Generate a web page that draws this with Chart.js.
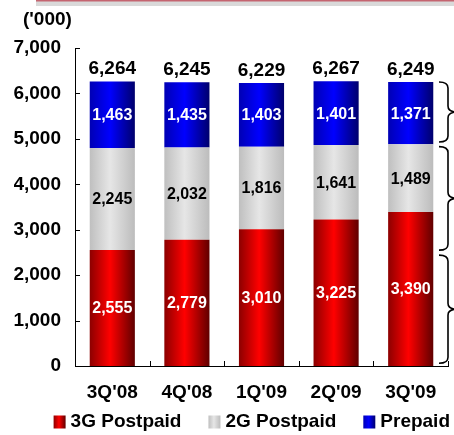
<!DOCTYPE html>
<html>
<head>
<meta charset="utf-8">
<script src="https://cdn.jsdelivr.net/npm/chart.js@4/dist/chart.umd.min.js"></script>
<style>
  html, body { margin: 0; padding: 0; background: #fff; }
  #wrap { width: 454px; height: 435px; }
</style>
</head>
<body>
<div id="wrap"><canvas id="chart"></canvas></div>
<script>
const categories = ["3Q'08", "4Q'08", "1Q'09", "2Q'09", "3Q'09"];
const postpaid3G = [2555, 2779, 3010, 3225, 3390];
const postpaid2G = [2245, 2032, 1816, 1641, 1489];
const prepaid = [1463, 1435, 1403, 1401, 1371];
const totals = [6264, 6245, 6229, 6267, 6249];
const yTicks = [0, 1000, 2000, 3000, 4000, 5000, 6000, 7000];
// value ranges the braces on the right cover
const braceRanges = [[6250, 4930], [4830, 2550], [2440, 60]];
const unitLabel = "('000)";

const fontFamily = "'Liberation Sans', Arial, Helvetica, sans-serif";
const barPct = 0.605;

const redStops = ["#8c0000", "#ff0000", "#600000"];
const grayStops = ["#bfbfbf", "#e6e6e6", "#bcbcbc"];
const blueStops = ["#0000b4", "#0000ff", "#00006c"];

function barGradient(stops) {
    return (ctx) => {
        const chart = ctx.chart;
        if (!chart.chartArea || ctx.type !== "data") return stops[1];
        const xs = chart.scales.x;
        const cx = xs.getPixelForValue(ctx.dataIndex);
        const half = xs.width / categories.length * barPct / 2;
        const g = chart.ctx.createLinearGradient(cx - half, 0, cx + half, 0);
        g.addColorStop(0, stops[0]);
        g.addColorStop(0.45, stops[1]);
        g.addColorStop(1, stops[2]);
        return g;
    };
}

const fmt = v => v.toLocaleString("en-US");

const decor = {
    id: "decor",
    afterDatasetsDraw(chart) {
        const c = chart.ctx;
        c.save();
        c.textAlign = "center";
        c.textBaseline = "middle";
        c.font = "bold 16px " + fontFamily;
        chart.data.datasets.forEach((ds, di) => {
            const meta = chart.getDatasetMeta(di);
            meta.data.forEach((bar, i) => {
                c.fillStyle = ds.labelColor;
                c.fillText(fmt(ds.data[i]), bar.x, (bar.y + bar.base) / 2 + 1);
            });
        });
        // totals above the stacks
        const topMeta = chart.getDatasetMeta(chart.data.datasets.length - 1);
        c.font = "bold 19px " + fontFamily;
        c.fillStyle = "#000";
        c.textBaseline = "alphabetic";
        topMeta.data.forEach((bar, i) => {
            c.fillText(fmt(totals[i]), bar.x, bar.y - 7);
        });
        c.restore();
    },
    afterDraw(chart) {
        const c = chart.ctx;
        const area = chart.chartArea;
        const ys = chart.scales.y;
        const xs = chart.scales.x;
        c.save();

        // header strip
        c.fillStyle = "#d9d9d9";
        c.fillRect(36, 1, chart.width - 36, 5);
        c.fillStyle = "#c46470";
        c.fillRect(36, 0, chart.width - 36, 1.5);

        // unit label
        c.fillStyle = "#000";
        c.font = "bold 19px " + fontFamily;
        c.textAlign = "left";
        c.textBaseline = "middle";
        c.fillText(unitLabel, 23, 20);

        // inward tick marks
        c.strokeStyle = "#000";
        c.lineWidth = 1;
        c.beginPath();
        yTicks.forEach(v => {
            const y = Math.round(ys.getPixelForValue(v)) + 0.5;
            c.moveTo(area.left, y);
            c.lineTo(area.left + 5, y);
        });
        for (let i = 1; i <= categories.length; i++) {
            const x = Math.round(xs.getPixelForValue(i - 0.5)) + 0.5;
            c.moveTo(x, area.bottom);
            c.lineTo(x, area.bottom - 5);
        }
        c.stroke();

        // braces on the right
        c.lineWidth = 1.6;
        const x0 = area.right - 9, x1 = area.right, xt = area.right + 9;
        braceRanges.forEach(([hi, lo]) => {
            const top = ys.getPixelForValue(hi);
            const bot = ys.getPixelForValue(lo);
            const mid = (top + bot) / 2;
            const r = 6;
            c.beginPath();
            c.moveTo(x0, top);
            c.quadraticCurveTo(x1, top, x1, top + r);
            c.lineTo(x1, mid - r);
            c.quadraticCurveTo(x1, mid, xt, mid);
            c.quadraticCurveTo(x1, mid, x1, mid + r);
            c.lineTo(x1, bot - r);
            c.quadraticCurveTo(x1, bot, x0, bot);
            c.stroke();
        });

        // legend
        c.font = "bold 19px " + fontFamily;
        c.textBaseline = "middle";
        const items = chart.data.datasets.map(ds => ({ text: ds.label, stops: ds.stops }));
        const boxW = 12, boxH = 13, gapIn = 5, gapOut = 27;
        let total = 0;
        items.forEach((it, i) => {
            it.w = c.measureText(it.text).width;
            total += boxW + gapIn + it.w + (i < items.length - 1 ? gapOut : 0);
        });
        let x = chart.width - 4 - total;
        const ly = 422;
        items.forEach(it => {
            const g = c.createLinearGradient(x, 0, x + boxW, 0);
            g.addColorStop(0, it.stops[0]);
            g.addColorStop(0.45, it.stops[1]);
            g.addColorStop(1, it.stops[2]);
            c.fillStyle = g;
            c.fillRect(x, ly - boxH / 2, boxW, boxH);
            c.fillStyle = "#000";
            c.fillText(it.text, x + boxW + gapIn, ly);
            x += boxW + gapIn + it.w + gapOut;
        });
        c.restore();
    }
};

new Chart(document.getElementById("chart"), {
    type: "bar",
    data: {
        labels: categories,
        datasets: [
            { label: "3G Postpaid", data: postpaid3G, backgroundColor: barGradient(redStops), stops: redStops, labelColor: "#fff" },
            { label: "2G Postpaid", data: postpaid2G, backgroundColor: barGradient(grayStops), stops: grayStops, labelColor: "#000" },
            { label: "Prepaid", data: prepaid, backgroundColor: barGradient(blueStops), stops: blueStops, labelColor: "#fff" }
        ]
    },
    options: {
        responsive: true,
        maintainAspectRatio: false,
        animation: false,
        events: [],
        datasets: {
            bar: {
                categoryPercentage: 1,
                barPercentage: barPct,
                borderWidth: 0
            }
        },
        layout: {
            padding: { left: 14, right: 6, top: 48, bottom: 28 }
        },
        plugins: {
            legend: { display: false },
            tooltip: { enabled: false },
            title: { display: false }
        },
        scales: {
            x: {
                stacked: true,
                afterFit: s => { s.height = 41; },
                grid: { display: false, drawTicks: false },
                border: { display: true, color: "#000", width: 1 },
                ticks: {
                    color: "#000",
                    padding: 15,
                    font: { family: fontFamily, size: 19, weight: "bold" }
                }
            },
            y: {
                stacked: true,
                min: 0,
                max: 7000,
                afterFit: s => { s.width = 61; },
                grid: { display: false, drawTicks: false },
                border: { display: true, color: "#000", width: 1 },
                ticks: {
                    stepSize: 1000,
                    color: "#000",
                    padding: 14,
                    callback: v => fmt(v),
                    font: { family: fontFamily, size: 19, weight: "bold" }
                }
            }
        }
    },
    plugins: [decor]
});
</script>
</body>
</html>
